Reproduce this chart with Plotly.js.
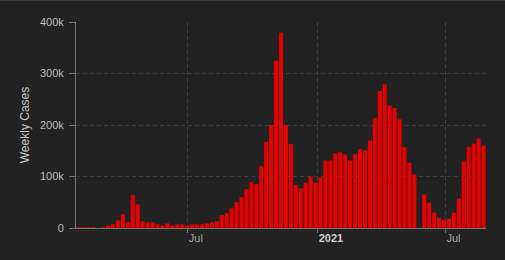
<!DOCTYPE html>
<html>
<head>
<meta charset="utf-8">
<script src="https://cdn.plot.ly/plotly-3.0.1.min.js"></script>
<style>
  html, body { margin: 0; padding: 0; background: #222222; }
  #chart { width: 505px; height: 259px; border-top: 1px solid #3a3a3a; }
</style>
</head>
<body>
<div id="chart"></div>
<script>
// First week plotted and weekly case counts (one value per week)
const firstWeek = '2020-01-28';
const weeklyCases = [
  1500, 1500, 1500, 1500, 0, 1500,
  4500, 7000, 15000, 26600, 11000, 63700, 46000, 13000, 11000, 11000,
  7000, 5000, 9000, 5000, 7000, 7000, 4500, 7000, 7000, 7000,
  9000, 11000, 13000, 25000, 28600, 38000, 50000, 60000, 75000, 89000,
  85000, 120000, 167000, 200000, 325000, 379000, 200000, 163000, 83000, 77000,
  88000, 100000, 88000, 98000, 131000, 131000, 145000, 147000, 143000, 131000,
  143000, 153000, 151000, 170000, 213000, 266000, 279000, 238000, 233000, 211000,
  157000, 127000, 104000, 0, 65000, 49000, 30000, 20000, 16000, 18000,
  30000, 57000, 129000, 157000, 164000, 174000, 160000
];
const xTickVals = ['2020-07-01', '2021-01-01', '2021-07-01'];
const xTickText = ['Jul', '<b><span style="color:#d2d2d2">2021</span></b>', 'Jul'];
const yTickVals = [0, 100000, 200000, 300000, 400000];
const yTickText = ['0', '100k', '200k', '300k', '400k'];

// weekly dates for each bar
const weekDates = weeklyCases.map((_, i) => {
  const d = new Date(firstWeek + 'T00:00:00Z');
  d.setUTCDate(d.getUTCDate() + 7 * i);
  return d.toISOString().slice(0, 10);
});
const rangeStart = (() => { const d = new Date(weekDates[0] + 'T00:00:00Z'); d.setUTCHours(d.getUTCHours() - 84); return d.toISOString(); })();
const rangeEnd = (() => { const d = new Date(weekDates[weekDates.length - 1] + 'T00:00:00Z'); d.setUTCHours(d.getUTCHours() + 84); return d.toISOString(); })();

const font = { family: 'Liberation Sans, Arial, sans-serif', size: 11, color: '#b4b4b4' };

Plotly.newPlot('chart', [{
  type: 'bar',
  x: weekDates,
  y: weeklyCases,
  marker: { color: '#e60000', line: { width: 0 } },
  hoverinfo: 'x+y'
}], {
  width: 505, height: 259,
  paper_bgcolor: '#222222', plot_bgcolor: '#222222',
  margin: { l: 76, r: 19, t: 21, b: 32 },
  bargap: 0.18,
  showlegend: false,
  font: font,
  xaxis: {
    type: 'date',
    range: [rangeStart, rangeEnd],
    tickvals: xTickVals, ticktext: xTickText,
    ticklabelposition: 'outside right',
    showline: true, linecolor: '#777777', linewidth: 1,
    ticks: 'outside', ticklen: 4, tickcolor: '#777777',
    showgrid: true, gridcolor: '#3e3e3e', griddash: '4px,3px', gridwidth: 1,
    zeroline: false, layer: 'below traces',
    tickfont: { family: font.family, size: 11, color: '#a8a8a8' },
    fixedrange: true
  },
  yaxis: {
    range: [0, 400000],
    tickvals: yTickVals, ticktext: yTickText,
    showline: true, linecolor: '#777777', linewidth: 1,
    ticks: 'outside', ticklen: 6, tickcolor: '#777777',
    ticklabelstandoff: 3,
    showgrid: true, gridcolor: '#3e3e3e', griddash: '4px,3px', gridwidth: 1,
    zeroline: false,
    tickfont: { family: font.family, size: 11, color: '#bdbdbd' },
    title: { text: 'Weekly Cases', font: { family: font.family, size: 12, color: '#c8c8c8' }, standoff: 7 },
    automargin: false,
    fixedrange: true
  }
}, { displayModeBar: false, staticPlot: true });
</script>
</body>
</html>
